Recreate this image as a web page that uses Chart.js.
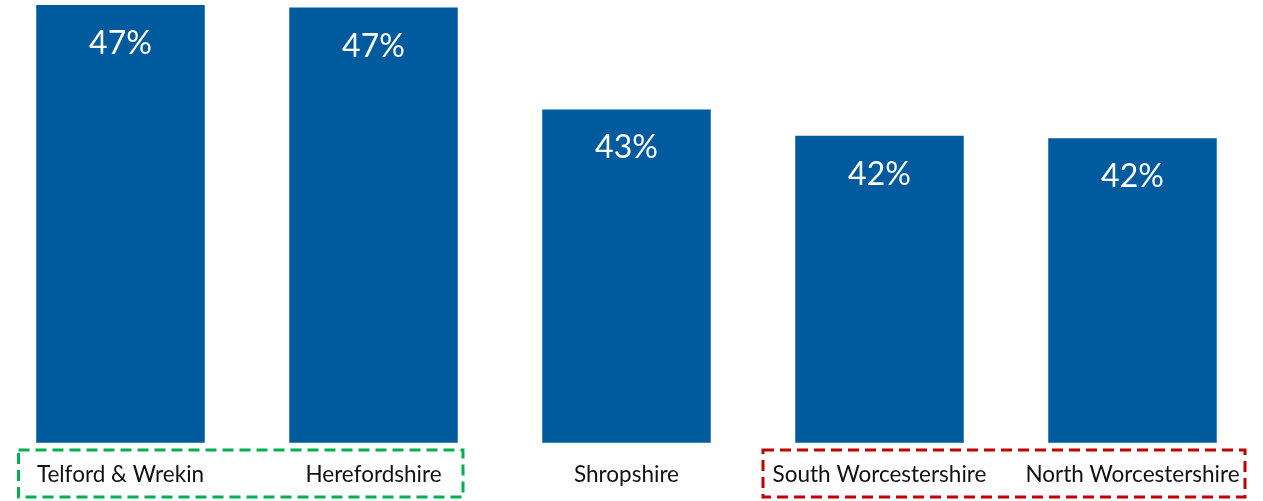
<!DOCTYPE html>
<html>
<head>
  <title>Area comparison</title>
  <script src="https://cdn.jsdelivr.net/npm/chart.js"></script>
  <style>
    body { margin: 0; background: #fff; overflow: hidden; }
    .wrap { position: absolute; left: -6px; top: 0; width: 1265px; height: 501px; }
  </style>
</head>
<body>
  <div class="wrap">
    <canvas id="areaChart"></canvas>
  </div>

  <script>
    const areas = ['Telford & Wrekin', 'Herefordshire', 'Shropshire', 'South Worcestershire', 'North Worcestershire'];
    const rates = [47.4, 47.3, 43.25, 42.2, 42.1];
    // which neighbouring areas get a dashed box round their labels
    const greenGroup = [0, 1];
    const redGroup = [3, 4];

    const FONT = 'Lato, "Open Sans", sans-serif';

    // category names under the bars, white % labels in the bars, dashed boxes
    const extras = {
      id: 'extras',
      afterDatasetsDraw(chart) {
        const ctx = chart.ctx;
        const meta = chart.getDatasetMeta(0);
        const bottom = chart.chartArea.bottom;
        ctx.save();
        ctx.textAlign = 'center';
        ctx.textBaseline = 'alphabetic';
        ctx.fillStyle = '#ffffff';
        ctx.font = '32px ' + FONT;
        meta.data.forEach((bar, i) => {
          ctx.fillText(Math.round(rates[i]) + '%', bar.x, bar.y + 49);
        });
        ctx.fillStyle = '#111111';
        ctx.font = '22.5px ' + FONT;
        meta.data.forEach((bar, i) => {
          ctx.fillText(areas[i], bar.x, bottom + 39.5);
        });
        ctx.restore();
      },
      afterDraw(chart) {
        const ctx = chart.ctx;
        const x = chart.scales.x;
        function box(group, padL, padR, colour) {
          const l = x.getPixelForValue(group[0]) - padL;
          const r = x.getPixelForValue(group[group.length - 1]) + padR;
          ctx.save();
          ctx.strokeStyle = colour;
          ctx.lineWidth = 3;
          ctx.setLineDash([11, 6]);
          ctx.strokeRect(l, 450, r - l, 47);
          ctx.restore();
        }
        box(greenGroup, 102, 89.5, '#00b050');
        box(redGroup, 116.5, 112.5, '#c00000');
      }
    };

    new Chart(document.getElementById('areaChart').getContext('2d'), {
      type: 'bar',
      data: {
        labels: areas,
        datasets: [{
          data: rates,
          backgroundColor: '#005a9e',
          barPercentage: 0.666,
          categoryPercentage: 1
        }]
      },
      options: {
        responsive: true,
        maintainAspectRatio: false,
        animation: false,
        layout: { padding: { top: 0, bottom: 58.3, left: 0, right: 0 } },
        plugins: { legend: { display: false }, tooltip: { enabled: false } },
        scales: {
          x: { display: false },
          y: {
            display: false,
            min: 30,
            max: 47.6
          }
        }
      },
      plugins: [extras]
    });
  </script>
</body>
</html>
